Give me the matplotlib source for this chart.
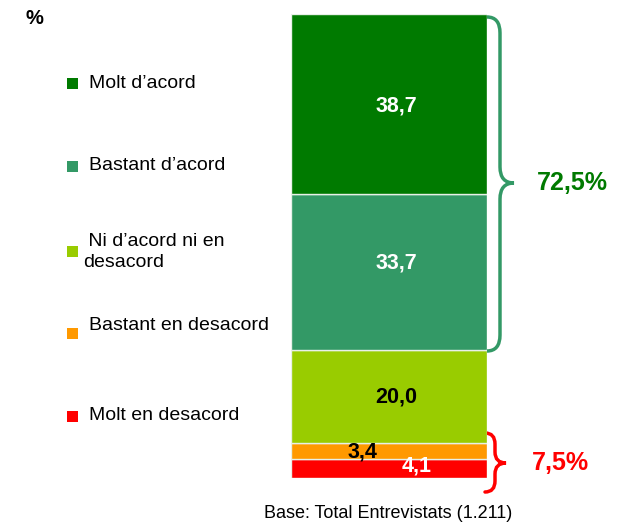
import matplotlib
matplotlib.use("Agg")
import matplotlib.pyplot as plt
from matplotlib.path import Path
from matplotlib.patches import PathPatch, Rectangle

plt.rcParams["font.family"] = ["Liberation Sans", "DejaVu Sans"]

# ── Data ─────────────────────────────────────────────
categories = ["Molt d’acord", "Bastant d’acord", "Ni d’acord ni en\ndesacord",
              "Bastant en desacord", "Molt en desacord"]
values = [38.7, 33.7, 20.0, 3.4, 4.1]
colors = ["#007A00", "#339966", "#99CC00", "#FF9900", "#FF0000"]
label_colors = ["white", "white", "black", "black", "white"]
agree_total = "72,5%"
disagree_total = "7,5%"
base_note = "Base: Total Entrevistats (1.211)"

W, H = 619, 525
fig = plt.figure(figsize=(W / 100, H / 100), dpi=100)

# ── Stacked bar (pixel box 291..487 x 14..478) ──────
bar_ax = fig.add_axes([291 / W, (H - 478) / H, 196 / W, 464 / H])
label_dx = [0.036, 0.036, 0.036, -0.133, 0.143]
label_dy = [-0.4, 2.0, 0, -0.2, 0.6]
bottom = 0.0
for i in reversed(range(len(values))):
    bar_ax.bar(0, values[i], bottom=bottom, width=1.0, color=colors[i],
               edgecolor="#e8f0e8", linewidth=1.0)
    txt = f"{values[i]:.1f}".replace(".", ",")
    bar_ax.text(label_dx[i], bottom + values[i] / 2 + label_dy[i], txt,
                ha="center", va="center", fontsize=15.5, fontweight="bold",
                color=label_colors[i])
    bottom += values[i]
bar_ax.set_xlim(-0.5, 0.5)
bar_ax.set_ylim(0, sum(values))
bar_ax.axis("off")

# ── Overlay in pixel coordinates for legend, braces, notes ──
ov = fig.add_axes([0, 0, 1, 1], zorder=-1)
ov.set_xlim(0, W)
ov.set_ylim(H, 0)
ov.axis("off")

ov.text(26, 19, "%", fontsize=14.5, fontweight="bold", va="center", ha="left")

marker_y = [83, 166, 251, 333, 416]
text_y = [83, 166, 252, 326, 416]
for lab, col, my, ty in zip(categories, colors, marker_y, text_y):
    ov.add_patch(Rectangle((67, my - 5.5), 11, 11, facecolor=col, edgecolor="none"))
    ov.text(89 if "\n" not in lab else 83, ty, lab if "\n" not in lab else " " + lab,
            fontsize=14, va="center", ha="left", linespacing=1.25)


def brace(ax, x0, x1, xt, ytop, ymid, ybot, color, r=14):
    verts = [(x0, ytop), (x1, ytop), (x1, ytop + r),
             (x1, ymid - r), (x1, ymid), (xt, ymid),
             (x1, ymid), (x1, ymid + r),
             (x1, ybot - r), (x1, ybot), (x0, ybot)]
    codes = [Path.MOVETO, Path.CURVE3, Path.CURVE3,
             Path.LINETO, Path.CURVE3, Path.CURVE3,
             Path.CURVE3, Path.CURVE3,
             Path.LINETO, Path.CURVE3, Path.CURVE3]
    ax.add_patch(PathPatch(Path(verts, codes), facecolor="none",
                           edgecolor=color, linewidth=2.5, capstyle="round"))


brace(ov, 487, 500, 514, 17, 183, 351, "#339966", r=16)
brace(ov, 485, 495, 506, 433, 463, 492, "#FF0000", r=11)

ov.text(537, 183, agree_total, fontsize=18, fontweight="bold",
        color="#007A00", va="center", ha="left")
ov.text(532, 463, disagree_total, fontsize=18, fontweight="bold",
        color="#FF0000", va="center", ha="left")
ov.text(388, 513, base_note, fontsize=13, va="center", ha="center")

fig.savefig("out.png", dpi=100)
